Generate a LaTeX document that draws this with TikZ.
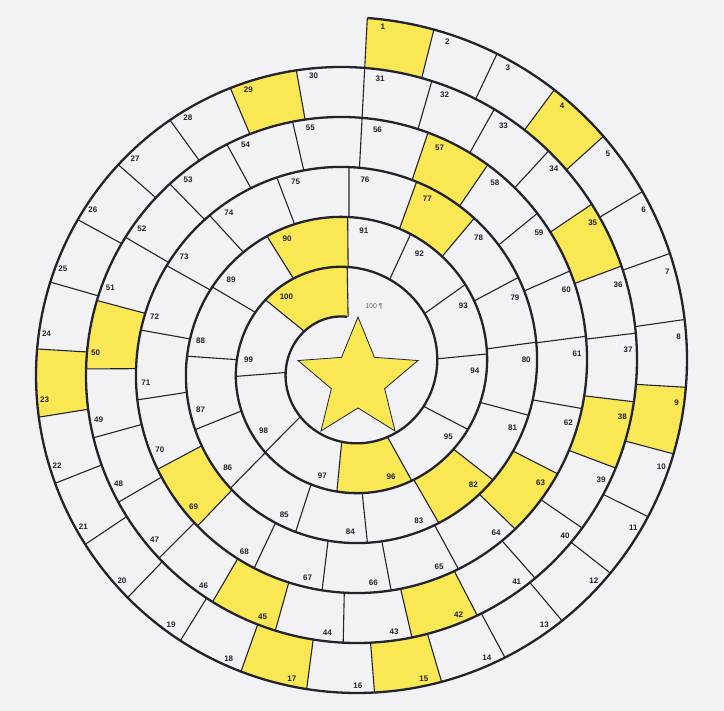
\documentclass[tikz,border=0pt]{standalone}
\usepackage{fontspec}
\setmainfont{Liberation Sans}
\definecolor{bgc}{RGB}{242,242,245}
\definecolor{yel}{RGB}{249,231,84}
\definecolor{ink}{RGB}{35,35,45}
\def\thIII{{88.3,71.4,55.6,39.3,23.6,7.5,-10,-27,-44.2,-61.5,-79.3,-96.9,-115.3,-133.7,-152,-171.3,-190.2,-209.2,-227.5,-249.2,-270}}
\def\thIV{{90,70,50,28,7.7,-14.9,-38,-60,-84,-108,-134.5,-158,-184,-210.5,-238,-269.5}}
\def\thV{{90.5,65.2,35.5,5.6,-27.5,-61,-95.6,-134.7,-175.5,-219,-269}}
\newcommand\getphi[1]{%
  \ifnum#1<56\relax
    \pgfmathsetmacro\myph{(13-sqrt(169-1.6*#1))/2}%
  \else\ifnum#1<76\relax
    \pgfmathsetmacro\myph{2+(87-\thIII[#1-55])/360}%
  \else\ifnum#1<91\relax
    \pgfmathsetmacro\myph{3+(87-\thIV[#1-75])/360}%
  \else
    \pgfmathsetmacro\myph{4+(87-\thV[#1-90])/360}%
  \fi\fi\fi}
\tikzset{
  lab/.style={font=\fontsize{8}{9}\selectfont\bfseries, text=ink, inner sep=0pt},
  spiralline/.style={draw=ink, line width=2.3pt, line join=round},
  radline/.style={draw=ink, line width=1.1pt},
  yellowsq/.style={fill=yel}
}
\begin{document}
\begin{tikzpicture}[x=1pt,y=1pt]
\fill[bgc] (0,0) rectangle (724,-711);
\useasboundingbox (0,0) rectangle (724,-711);
% yellow squares
\foreach \k in {1,4,9,15,17,23,29,35,38,42,45,50,57,63,69,77,82,90,96,100}{%
  \pgfmathtruncatemacro\km{\k-1}%
  \getphi{\km}\let\phs\myph
  \getphi{\k}\let\phe\myph
  \fill[yellowsq] plot[domain=\phs:\phe,samples=30,variable=\t]
    ({349+(350-50*\t)*cos(87-360*\t)},{-367.5+(350-50*\t)*sin(87-360*\t)})
    -- plot[domain=\phe:\phs,samples=30,variable=\t]
    ({349+(300-50*\t)*cos(87-360*\t)},{-367.5+(300-50*\t)*sin(87-360*\t)}) -- cycle;
}
% star
\draw[ink, line width=0.8pt, fill=yel, line join=miter, shift={(358,-380)}]
  (90:63) -- (126:28) -- (162:63) -- (198:28) -- (234:63) -- (270:28)
  -- (306:63) -- (342:28) -- (18:63) -- (54:28) -- cycle;
% radial dividers
\foreach \k in {0,...,100}{%
  \getphi{\k}%
  \draw[radline] ({349+(350-50*\myph)*cos(87-360*\myph)},{-367.5+(350-50*\myph)*sin(87-360*\myph)})
    -- ({349+(300-50*\myph)*cos(87-360*\myph)},{-367.5+(300-50*\myph)*sin(87-360*\myph)});
}
% spiral
\draw[spiralline] plot[domain=0:5.9889,samples=1500,variable=\t]
  ({349+(350-50*\t)*cos(87-360*\t)},{-367.5+(350-50*\t)*sin(87-360*\t)});
% labels
\foreach \k in {1,...,100}{%
  \pgfmathtruncatemacro\km{\k-1}%
  \getphi{\km}%
  \pgfmathsetmacro\ringno{(\k>30)+(\k>55)+(\k>75)+(\k>90)}%
  \pgfmathsetmacro\lrad{350-50*\myph-8-1.2*\ringno}%
  \pgfmathsetmacro\lang{87-360*\myph-16/\lrad*57.2958}%
  \node[lab] (n\k) at ({349+\lrad*cos(\lang)},{-367.5+\lrad*sin(\lang)}) {\k};
}
\node[font=\fontsize{7}{8}\selectfont, text=ink!70, inner sep=0pt] (top100) at (374,-307) {100 ¶};
\end{tikzpicture}
\end{document}
